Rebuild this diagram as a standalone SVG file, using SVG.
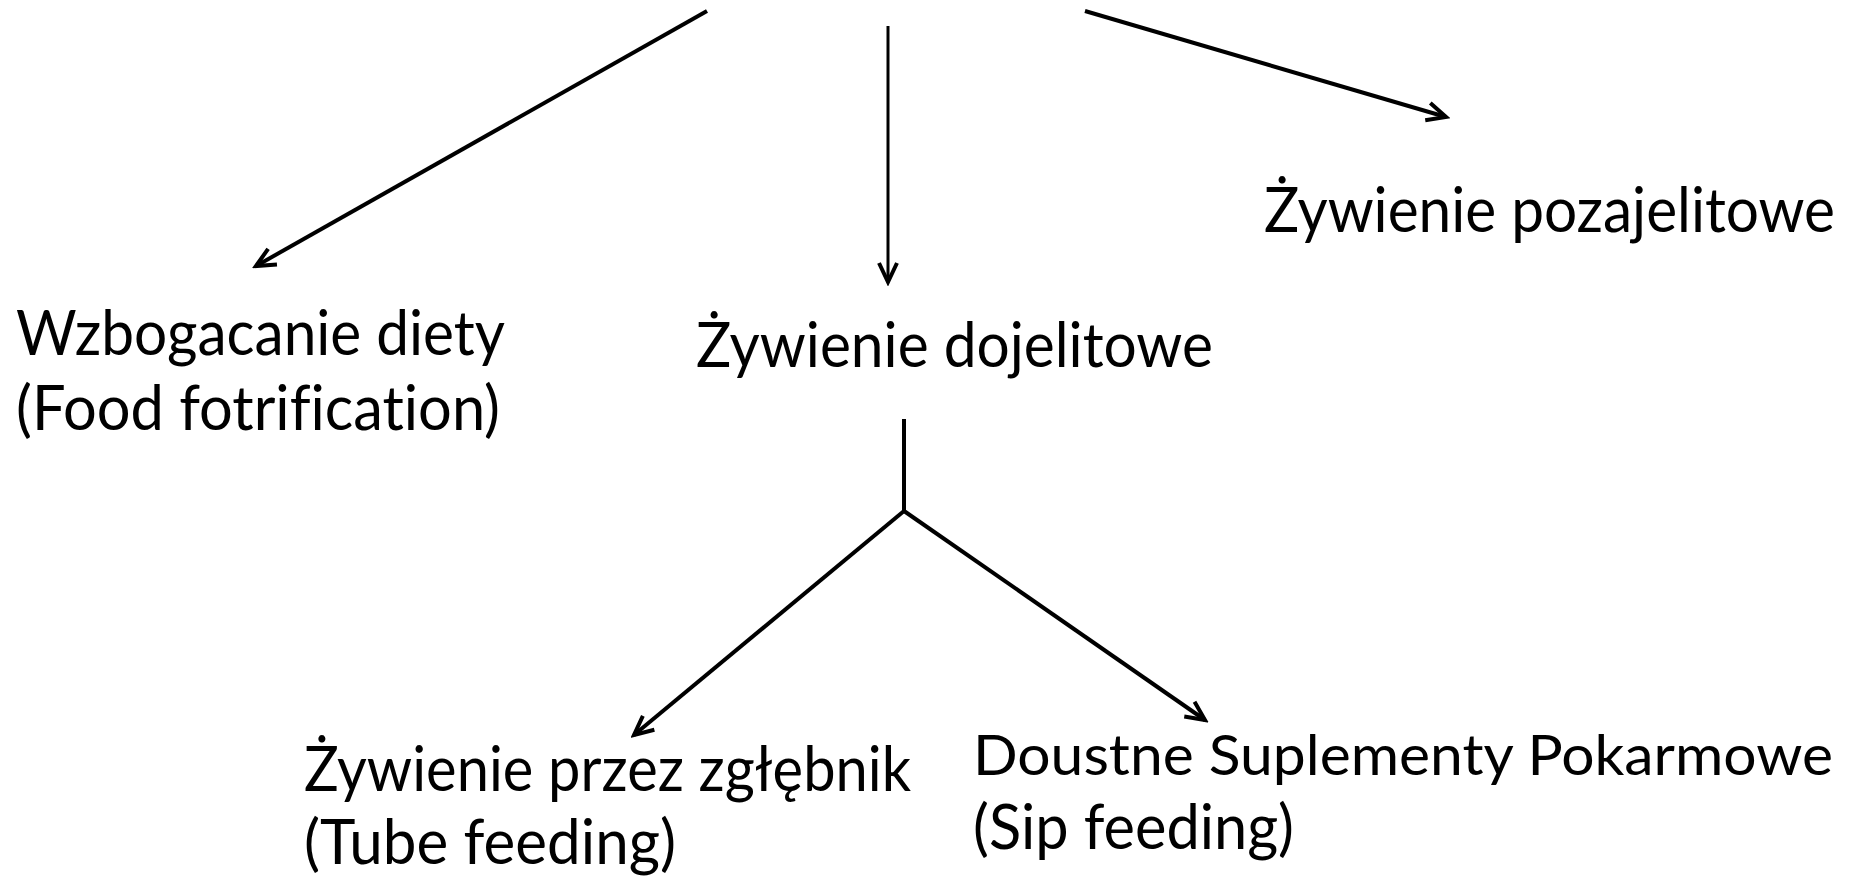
<svg xmlns="http://www.w3.org/2000/svg" width="1856" height="877" viewBox="0 0 1856 877">
<style>
.t{font-family:Lato,"Open Sans","Liberation Sans",sans-serif;font-size:61px;fill:#000;font-variant-ligatures:none}
.c{stroke:#000;stroke-width:4;fill:none}
</style>
<defs>
<marker id="ah" markerUnits="userSpaceOnUse" viewBox="-22 -12 26 24" refX="0" refY="0" markerWidth="26" markerHeight="24" orient="auto">
<path d="M-19,-9 L0,0 L-19,9" fill="none" stroke="#000" stroke-width="4"/>
</marker>
</defs>
<rect width="1856" height="877" fill="#fff"/>
<g id="connectors">
<line class="c" x1="707" y1="11" x2="256" y2="266" marker-end="url(#ah)"/>
<line class="c" x1="888" y1="26" x2="888" y2="282" style="stroke-width:3" marker-end="url(#ah)"/>
<line class="c" x1="1085" y1="11" x2="1446" y2="117" marker-end="url(#ah)"/>
<line class="c" x1="904" y1="419" x2="904" y2="511"/>
<line class="c" x1="904" y1="511" x2="634" y2="735" marker-end="url(#ah)"/>
<line class="c" x1="904" y1="511" x2="1205" y2="720" marker-end="url(#ah)"/>
</g>
<g id="node-wzbogacanie">
<text class="t" x="16" y="355" textLength="489" lengthAdjust="spacingAndGlyphs">Wzbogacanie diety</text>
<text class="t" x="16" y="430" textLength="484" lengthAdjust="spacingAndGlyphs">(Food fotrification)</text>
</g>
<g id="node-dojelitowe">
<text class="t" x="696" y="367" textLength="517" lengthAdjust="spacingAndGlyphs">Żywienie dojelitowe</text>
</g>
<g id="node-pozajelitowe">
<text class="t" x="1264" y="232" textLength="571" lengthAdjust="spacingAndGlyphs">Żywienie pozajelitowe</text>
</g>
<g id="node-zglebnik">
<text class="t" x="304" y="791" textLength="607" lengthAdjust="spacingAndGlyphs">Żywienie przez zgłębnik</text>
<text class="t" x="304" y="864" textLength="372" lengthAdjust="spacingAndGlyphs">(Tube feeding)</text>
</g>
<g id="node-doustne">
<text class="t" x="973" y="775" style="font-size:57px" textLength="860" lengthAdjust="spacingAndGlyphs">Doustne Suplementy Pokarmowe</text>
<text class="t" x="973" y="849" textLength="321" lengthAdjust="spacingAndGlyphs">(Sip feeding)</text>
</g>
</svg>
